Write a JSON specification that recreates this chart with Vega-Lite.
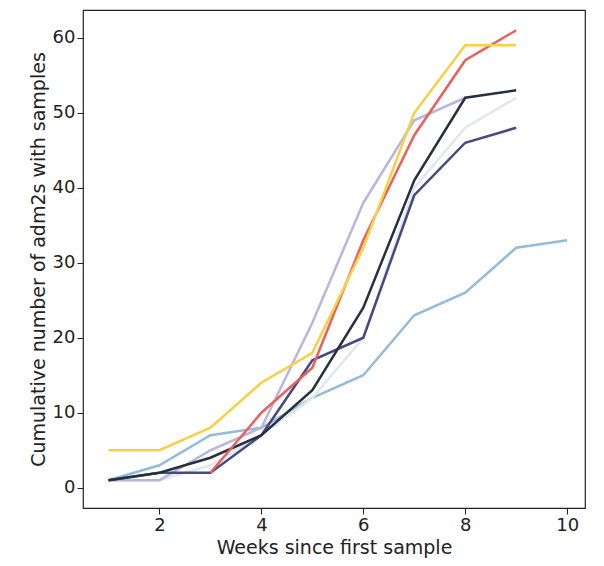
{
  "$schema": "https://vega.github.io/schema/vega-lite/v6.json",
  "width": 502,
  "height": 498,
  "background": "white",
  "autosize": {"type": "none"},
  "padding": {"left": 83, "top": 10, "right": 19, "bottom": 58},
  "data": {"values": [
    {"s":"a","w":1,"n":1},{"s":"a","w":2,"n":3},{"s":"a","w":3,"n":7},{"s":"a","w":4,"n":8},{"s":"a","w":5,"n":12},{"s":"a","w":6,"n":15},{"s":"a","w":7,"n":23},{"s":"a","w":8,"n":26},{"s":"a","w":9,"n":32},{"s":"a","w":10,"n":33},
    {"s":"b","w":1,"n":1},{"s":"b","w":2,"n":1},{"s":"b","w":3,"n":3},{"s":"b","w":4,"n":7},{"s":"b","w":5,"n":12},{"s":"b","w":6,"n":20},{"s":"b","w":7,"n":40},{"s":"b","w":8,"n":48},{"s":"b","w":9,"n":52},
    {"s":"c","w":1,"n":1},{"s":"c","w":2,"n":1},{"s":"c","w":3,"n":5},{"s":"c","w":4,"n":8},{"s":"c","w":5,"n":22},{"s":"c","w":6,"n":38},{"s":"c","w":7,"n":49},{"s":"c","w":8,"n":52},
    {"s":"d","w":1,"n":1},{"s":"d","w":2,"n":2},{"s":"d","w":3,"n":2},{"s":"d","w":4,"n":7},{"s":"d","w":5,"n":17},{"s":"d","w":6,"n":20},{"s":"d","w":7,"n":39},{"s":"d","w":8,"n":46},{"s":"d","w":9,"n":48},
    {"s":"e","w":1,"n":1},{"s":"e","w":2,"n":2},{"s":"e","w":3,"n":4},{"s":"e","w":4,"n":7},{"s":"e","w":5,"n":13},{"s":"e","w":6,"n":24},{"s":"e","w":7,"n":41},{"s":"e","w":8,"n":52},{"s":"e","w":9,"n":53},
    {"s":"f","w":3,"n":2},{"s":"f","w":4,"n":10},{"s":"f","w":5,"n":16},{"s":"f","w":6,"n":33},{"s":"f","w":7,"n":47},{"s":"f","w":8,"n":57},{"s":"f","w":9,"n":61},
    {"s":"g","w":1,"n":5},{"s":"g","w":2,"n":5},{"s":"g","w":3,"n":8},{"s":"g","w":4,"n":14},{"s":"g","w":5,"n":18},{"s":"g","w":6,"n":32},{"s":"g","w":7,"n":50},{"s":"g","w":8,"n":59},{"s":"g","w":9,"n":59}
  ]},
  "mark": {"type": "line", "strokeWidth": 2.5},
  "encoding": {
    "x": {"field": "w", "type": "quantitative", "title": "Weeks since first sample",
      "scale": {"domain": [0.5, 10.35], "nice": false, "zero": false},
      "axis": {"values": [2,4,6,8,10]}},
    "y": {"field": "n", "type": "quantitative", "title": "Cumulative number of adm2s with samples",
      "scale": {"domain": [-2.7, 63.7], "nice": false, "zero": false},
      "axis": {"values": [0,10,20,30,40,50,60]}},
    "color": {"field": "s", "type": "nominal", "legend": null,
      "scale": {"domain": ["a","b","c","d","e","f","g"],
        "range": ["#93bcd6","#dde8f0","#b9b5de","#454a7f","#28303f","#ec5f5a","#f7d046"]}}
  },
  "config": {
    "font": "DejaVu Sans",
    "view": {"stroke": "#222", "strokeWidth": 1.2},
    "axis": {"grid": false, "labelFontSize": 18, "titleFontSize": 19, "titleFontWeight": "normal",
      "labelColor": "#222", "titleColor": "#222", "domain": false, "tickColor": "#222", "tickSize": 6}
  }
}
